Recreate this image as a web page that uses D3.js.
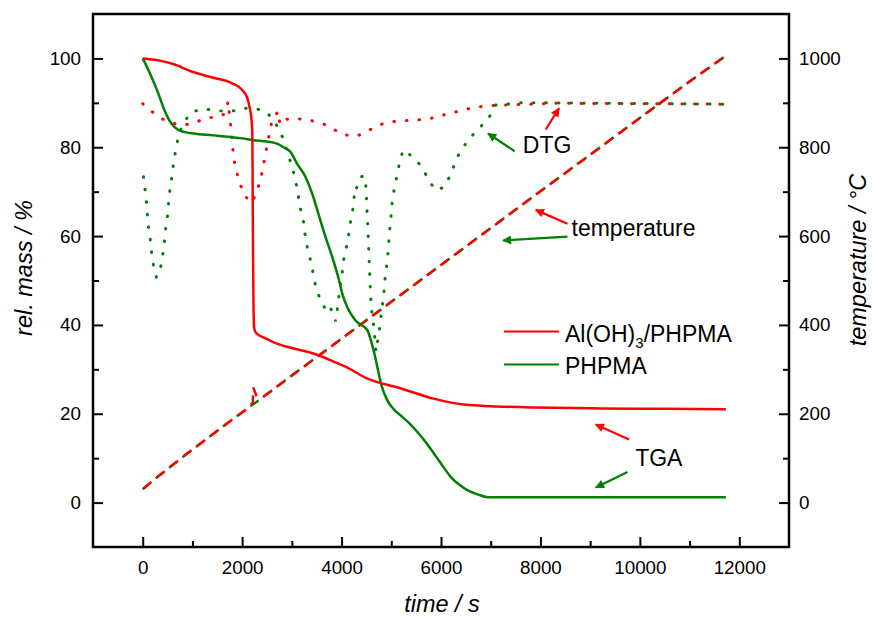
<!DOCTYPE html>
<html>
<head>
<meta charset="utf-8">
<script src="https://cdn.jsdelivr.net/npm/d3@7/dist/d3.min.js"></script>
<style>
  body { margin: 0; background: #fff; }
  text { font-family: "Liberation Sans", Arial, sans-serif; fill: #000; }
</style>
</head>
<body>
<script>
// TGA, Al(OH)3/PHPMA
var tgaRedT = [0, 300, 600, 1000, 1400, 1800, 2000, 2100, 2150, 2190, 2205, 2212, 2220, 2228, 2240, 2260, 2300, 2450, 2700, 3000, 3450, 3850, 4100, 4500, 5200, 5850, 6500, 7000, 7900, 9200, 10500, 11730];
var tgaRedM = [100, 99.6, 98.8, 97.0, 95.7, 94.4, 92.9, 91.2, 89.0, 86.0, 83.0, 70, 55, 45, 39.5, 38.6, 38.0, 37.1, 35.8, 34.8, 33.5, 31.7, 30.5, 28.0, 25.7, 23.4, 22.0, 21.7, 21.4, 21.2, 21.1, 21.0];

// TGA, PHPMA
var tgaGreenT = [0, 150, 290, 450, 560, 700, 850, 1100, 1500, 2000, 2230, 2500, 2700, 2850, 2975, 3110, 3280, 3410, 3545, 3680, 3815, 3950, 4015, 4115, 4280, 4520, 4590, 4650, 4720, 4800, 4920, 5050, 5190, 5350, 5525, 5700, 5860, 6030, 6195, 6370, 6530, 6750, 6960, 8000, 11730];
var tgaGreenM = [100, 96.5, 92.8, 88, 85.6, 84.0, 83.4, 83.0, 82.6, 82.0, 81.6, 81.3, 80.8, 79.9, 78.9, 76.2, 73.2, 69.5, 64.6, 59.7, 55.2, 50.0, 47.0, 44.0, 41.0, 38.8, 36.5, 34, 30.5, 26.5, 23, 21, 19.6, 18, 15.9, 13.5, 11, 8.3, 5.8, 4, 2.8, 1.8, 1.2, 1.2, 1.2];

// DTG, Al(OH)3/PHPMA (left axis units)
var dtgRedT = [0, 200, 390, 590, 840, 1060, 1280, 1530, 1650, 1719, 1746, 1780, 1800, 1832, 1852, 1913, 2001, 2134, 2200, 2289, 2370, 2424, 2470, 2505, 2551, 2605, 2726, 2760, 2839, 3141, 3390, 3644, 3845, 4047, 4302, 4504, 4719, 4933, 5188, 5436, 5838, 6060, 6281, 6517, 6765, 7020, 7282, 7792, 8309, 11730];
var dtgRedM = [89.8, 87.9, 86.4, 85.4, 85.0, 85.6, 86.6, 86.9, 87.5, 90.3, 87.1, 83.9, 80.7, 77.9, 76.1, 73.4, 70.4, 67.8, 67.6, 69.8, 72.7, 75.6, 78.7, 80.4, 83.3, 86.2, 88.1, 85.2, 86.3, 86.4, 86.0, 85.2, 84.0, 82.8, 82.5, 83.5, 84.9, 85.6, 86.0, 86.0, 86.6, 87.3, 87.9, 88.6, 89.1, 89.4, 89.5, 89.7, 89.9, 89.7];

// DTG, PHPMA
var dtgGreenT = [0, 34, 68, 89, 109, 149, 175, 215, 276, 356, 403, 437, 463, 503, 523, 552, 592, 624, 672, 725, 826, 980, 1196, 1417, 1631, 1832, 2068, 2235, 2456, 2605, 2738, 2839, 2910, 3007, 3074, 3121, 3161, 3229, 3262, 3310, 3376, 3430, 3477, 3564, 3658, 3740, 3826, 3880, 3914, 3980, 4014, 4047, 4135, 4161, 4215, 4249, 4262, 4302, 4397, 4463, 4497, 4504, 4517, 4531, 4551, 4584, 4604, 4638, 4665, 4690, 4752, 4785, 4820, 4852, 4872, 4906, 4933, 4953, 4973, 5001, 5021, 5067, 5122, 5174, 5242, 5423, 5577, 5746, 5873, 6048, 6175, 6275, 6376, 6511, 6664, 6819, 6966, 7101, 7322, 7558, 8021, 11730];
var dtgGreenM = [74.7, 71.7, 68.6, 65.6, 62.6, 59.6, 56.6, 53.6, 50.7, 52.7, 55.7, 58.7, 61.8, 64.8, 67.8, 70.8, 73.8, 76.8, 79.8, 83.0, 85.6, 87.9, 88.6, 88.4, 88.1, 88.2, 88.8, 88.8, 88.1, 86.6, 84.1, 81.6, 78.8, 75.6, 72.6, 69.7, 66.7, 63.7, 60.6, 57.6, 54.5, 51.6, 48.7, 45.9, 43.9, 44.8, 42.5, 40.8, 43.5, 49.4, 51.8, 55.0, 59.4, 62.2, 65.0, 68.0, 71.0, 70.8, 73.4, 73.5, 70.4, 67.4, 64.4, 61.4, 55.4, 46.4, 43.4, 40.4, 37.4, 34.0, 38.1, 41.2, 44.2, 47.2, 50.2, 53.1, 56.1, 59.0, 62.0, 65.1, 68.2, 71.0, 74.0, 77.1, 79.4, 77.9, 76.1, 72.9, 70.4, 70.9, 73.4, 76.2, 78.9, 81.0, 83.1, 84.9, 86.7, 89.5, 89.7, 90.0, 90.0, 89.7];

// temperature (right axis, °C)
var tempRedT = [0, 300, 900, 1800, 2100, 2215, 2222, 2290, 2350, 2400, 3000, 4000, 5000, 6000, 7000, 8000, 9000, 10000, 11000, 11730];
var tempRedC = [30, 58, 111, 187, 211, 225, 259, 240, 236, 236, 286, 369, 452, 535, 618, 701, 783, 866, 948, 1006];
var tempGreenT = [0, 300, 900, 1800, 2100, 2400, 3000, 4000, 5000, 6000, 7000, 8000, 9000, 10000, 11000, 11730];
var tempGreenC = [30, 58, 111, 187, 211, 236, 286, 369, 452, 535, 618, 701, 783, 866, 948, 1006];

// ticks
var xMajor = [0, 2000, 4000, 6000, 8000, 10000, 12000];
var xMinor = [1000, 3000, 5000, 7000, 9000, 11000];
var yMajor = [0, 20, 40, 60, 80, 100];
var yMinor = [10, 30, 50, 70, 90];
var tMajor = [0, 200, 400, 600, 800, 1000];
var tMinor = [100, 300, 500, 700, 900];

// annotation arrows in data units: [tail time, tail mass, tip time, tip mass]
var arrowsRed = [[8107, 84.0, 8375, 88.8], [8544, 62.8, 7906, 65.9], [9785, 14.2, 9111, 17.6]];
var arrowsGreen = [[7483, 79.1, 6946, 83.1], [8544, 59.9, 7248, 59.0], [9752, 6.9, 9114, 3.4]];
var labelText = ["DTG", "temperature", "TGA"];
var labelT = [7645, 8625, 9905];
var labelM = [78.6, 60.1, 8.2];

var w = 873, h = 619;
var pLeft = 93, pRight = 789, pTop = 14, pBottom = 547;
var red = "#ff0000", green = "#008000";

var x = d3.scaleLinear().domain([-1000, 13000]).range([pLeft, pRight]);
var y = d3.scaleLinear().domain([-10, 110]).range([pBottom, pTop]);
var yT = d3.scaleLinear().domain([-100, 1100]).range([pBottom, pTop]);

var svg = d3.select("body").append("svg")
    .attr("width", w)
    .attr("height", h);

var defs = svg.append("defs");
[["headRed", red], ["headGreen", green]].forEach(function (m) {
  defs.append("marker")
    .attr("id", m[0])
    .attr("markerUnits", "userSpaceOnUse")
    .attr("viewBox", "0 0 10 10")
    .attr("refX", 9)
    .attr("refY", 5)
    .attr("markerWidth", 11)
    .attr("markerHeight", 9)
    .attr("orient", "auto")
    .append("path")
    .attr("d", "M0,0 L10,5 L0,10 Z")
    .attr("fill", m[1]);
});

function zip(a, b) {
  return a.map(function (d, i) { return [d, b[i]]; });
}

var lineM = d3.line().x(function (d) { return x(d[0]); }).y(function (d) { return y(d[1]); });
var lineMS = d3.line().curve(d3.curveMonotoneX).x(function (d) { return x(d[0]); }).y(function (d) { return y(d[1]); });
var lineT = d3.line().x(function (d) { return x(d[0]); }).y(function (d) { return yT(d[1]); });

// DTG dotted
svg.append("path").datum(zip(dtgRedT, dtgRedM))
  .attr("d", lineM).attr("fill", "none").attr("stroke", red)
  .attr("stroke-width", 3).attr("stroke-linecap", "round").attr("stroke-dasharray", "0.6,12");
svg.append("path").datum(zip(dtgGreenT, dtgGreenM))
  .attr("d", lineM).attr("fill", "none").attr("stroke", green)
  .attr("stroke-width", 3).attr("stroke-linecap", "round").attr("stroke-dasharray", "0.6,12")
  .attr("stroke-dashoffset", -6);

// temperature dashed
svg.append("path").datum(zip(tempGreenT, tempGreenC))
  .attr("d", lineT).attr("fill", "none").attr("stroke", green)
  .attr("stroke-width", 2.5).attr("stroke-dasharray", "10,7");
svg.append("path").datum(zip(tempRedT, tempRedC))
  .attr("d", lineT).attr("fill", "none").attr("stroke", red)
  .attr("stroke-width", 2.5).attr("stroke-dasharray", "10,7").attr("stroke-dashoffset", -1.5);

// TGA solid
svg.append("path").datum(zip(tgaGreenT, tgaGreenM))
  .attr("d", lineMS).attr("fill", "none").attr("stroke", green).attr("stroke-width", 2.5);
svg.append("path").datum(zip(tgaRedT, tgaRedM))
  .attr("d", lineMS).attr("fill", "none").attr("stroke", red).attr("stroke-width", 2.5);

// frame
svg.append("rect")
  .attr("x", pLeft).attr("y", pTop)
  .attr("width", pRight - pLeft).attr("height", pBottom - pTop)
  .attr("fill", "none").attr("stroke", "#000").attr("stroke-width", 2.5);

function styleAxis(g) {
  g.select(".domain").remove();
  g.selectAll(".tick line").attr("stroke", "#000").attr("stroke-width", 2);
  g.selectAll(".tick text").style("font-size", "18.8px").attr("fill", "#000");
}

svg.append("g").attr("transform", "translate(0," + pBottom + ")")
  .call(d3.axisBottom(x).tickValues(xMajor).tickSize(-10).tickPadding(14).tickFormat(d3.format("d")))
  .call(styleAxis);
svg.append("g").attr("transform", "translate(0," + pBottom + ")")
  .call(d3.axisBottom(x).tickValues(xMinor).tickSize(-6).tickFormat(""))
  .call(styleAxis);

svg.append("g").attr("transform", "translate(" + pLeft + ",0)")
  .call(d3.axisLeft(y).tickValues(yMajor).tickSize(-10).tickPadding(12).tickFormat(d3.format("d")))
  .call(styleAxis);
svg.append("g").attr("transform", "translate(" + pLeft + ",0)")
  .call(d3.axisLeft(y).tickValues(yMinor).tickSize(-6).tickFormat(""))
  .call(styleAxis);

svg.append("g").attr("transform", "translate(" + pRight + ",0)")
  .call(d3.axisRight(yT).tickValues(tMajor).tickSize(-10).tickPadding(10).tickFormat(d3.format("d")))
  .call(styleAxis);
svg.append("g").attr("transform", "translate(" + pRight + ",0)")
  .call(d3.axisRight(yT).tickValues(tMinor).tickSize(-6).tickFormat(""))
  .call(styleAxis);

// axis titles
svg.append("text")
  .attr("x", 442).attr("y", 612)
  .attr("text-anchor", "middle")
  .style("font-size", "23.5px").style("font-style", "italic")
  .text("time / s");
svg.append("text")
  .attr("transform", "translate(32,268) rotate(-90)")
  .attr("text-anchor", "middle")
  .style("font-size", "23.5px").style("font-style", "italic")
  .text("rel. mass / %");
svg.append("text")
  .attr("transform", "translate(866,260) rotate(-90)")
  .attr("text-anchor", "middle")
  .style("font-size", "23.5px").style("font-style", "italic")
  .text("temperature / °C");

// annotations
function drawArrows(list, color, marker) {
  list.forEach(function (a) {
    svg.append("line")
      .attr("x1", x(a[0])).attr("y1", y(a[1]))
      .attr("x2", x(a[2])).attr("y2", y(a[3]))
      .attr("stroke", color).attr("stroke-width", 2.2)
      .attr("marker-end", "url(#" + marker + ")");
  });
}
drawArrows(arrowsRed, red, "headRed");
drawArrows(arrowsGreen, green, "headGreen");

labelText.forEach(function (s, i) {
  svg.append("text")
    .attr("x", x(labelT[i])).attr("y", y(labelM[i]))
    .style("font-size", "23px")
    .text(s);
});

// legend
var legend = svg.append("g");
legend.append("line").attr("x1", 504).attr("x2", 559).attr("y1", 331.5).attr("y2", 331.5)
  .attr("stroke", red).attr("stroke-width", 2.2);
legend.append("line").attr("x1", 504).attr("x2", 559).attr("y1", 364.5).attr("y2", 364.5)
  .attr("stroke", green).attr("stroke-width", 2.2);
var t1 = legend.append("text").attr("x", 565).attr("y", 341.5).style("font-size", "23px");
t1.append("tspan").text("Al(OH)");
t1.append("tspan").attr("dy", 6).style("font-size", "15px").text("3");
t1.append("tspan").attr("dy", -6).text("/PHPMA");
legend.append("text").attr("x", 565).attr("y", 373.5).style("font-size", "23px").text("PHPMA");
</script>
</body>
</html>
